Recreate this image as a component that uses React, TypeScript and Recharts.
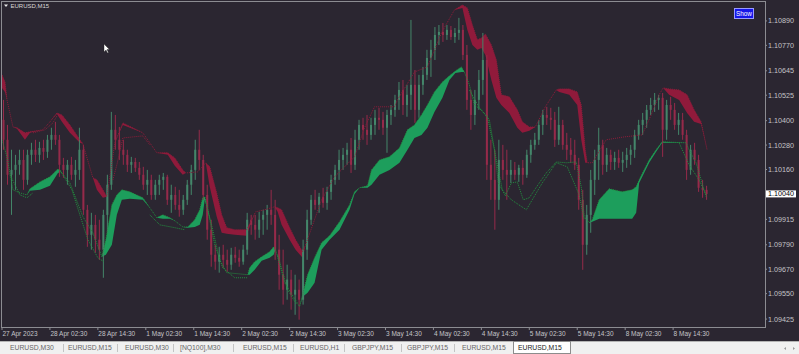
import React from 'react';
import { ComposedChart, Bar, Area, Line, XAxis, YAxis } from 'recharts';

// ---------------- data ----------------
const timeLabels = ['27 Apr 2023', '28 Apr 02:30', '28 Apr 14:30', '1 May 02:30', '1 May 14:30', '2 May 02:30', '2 May 14:30', '3 May 02:30', '3 May 14:30', '4 May 02:30', '4 May 14:30', '5 May 02:30', '5 May 14:30', '8 May 02:30', '8 May 14:30'];
const priceTicks = [1.1089, 1.1077, 1.10645, 1.10525, 1.104, 1.1028, 1.1016, 1.1004, 1.09915, 1.0979, 1.0967, 1.0955, 1.09425];
const tabLabels = ['EURUSD,M30', 'EURUSD,M15', 'EURUSD,M30', '[NQ100],M30', 'EURUSD,M15', 'EURUSD,H1', 'GBPJPY,M15', 'GBPJPY,M15', 'EURUSD,M15', 'EURUSD,M15'];

// hourly candles [open, high, low, close]
const candles: number[][] = [
  [1.10404, 1.10502, 1.10257, 1.10306], [1.10306, 1.10379, 1.10085, 1.10134], [1.10134, 1.10257, 1.09937, 1.10158], [1.10158, 1.10232, 1.1006, 1.10183],
  [1.10183, 1.10257, 1.10134, 1.10207], [1.10207, 1.10257, 1.1006, 1.10109], [1.10109, 1.10257, 1.10085, 1.10232], [1.10232, 1.10291, 1.10183, 1.10257],
  [1.10257, 1.10306, 1.10197, 1.10232], [1.10232, 1.10296, 1.10193, 1.10266], [1.10266, 1.10306, 1.10207, 1.10247], [1.10247, 1.1033, 1.10217, 1.10306],
  [1.10306, 1.10365, 1.10257, 1.1033], [1.1033, 1.10394, 1.10281, 1.10306], [1.10306, 1.1033, 1.10124, 1.10183], [1.10183, 1.10217, 1.10119, 1.10158],
  [1.10158, 1.10207, 1.10085, 1.10183], [1.10183, 1.10222, 1.10109, 1.10134], [1.10134, 1.10207, 1.10075, 1.10158], [1.10158, 1.10365, 1.10109, 1.10257],
  [1.10257, 1.10281, 1.09937, 1.09962], [1.09962, 1.09986, 1.0978, 1.09839], [1.09839, 1.09947, 1.09766, 1.09888], [1.09888, 1.09937, 1.09751, 1.09815],
  [1.09815, 1.09913, 1.09716, 1.09766], [1.09766, 1.09962, 1.09628, 1.09937], [1.09937, 1.10134, 1.09849, 1.10085], [1.10085, 1.10443, 1.1006, 1.10355],
  [1.10355, 1.10428, 1.10257, 1.10306], [1.10306, 1.10369, 1.10207, 1.10257], [1.10257, 1.10306, 1.10183, 1.10232], [1.10232, 1.10257, 1.10148, 1.10183],
  [1.10183, 1.10222, 1.10143, 1.10197], [1.10197, 1.10217, 1.10148, 1.10168], [1.10168, 1.10197, 1.10109, 1.10134], [1.10134, 1.10173, 1.1006, 1.10085],
  [1.10085, 1.10158, 1.10035, 1.10109], [1.10109, 1.10134, 1.10011, 1.10035], [1.10035, 1.10109, 1.10011, 1.10085], [1.10085, 1.10134, 1.10035, 1.10109],
  [1.10109, 1.10143, 1.1006, 1.10124], [1.10124, 1.10134, 1.09986, 1.10011], [1.10011, 1.10085, 1.09947, 1.10035], [1.10035, 1.10075, 1.09962, 1.09986],
  [1.09986, 1.1006, 1.09928, 1.09962], [1.09962, 1.10035, 1.09937, 1.10011], [1.10011, 1.10109, 1.09986, 1.10085], [1.10085, 1.10183, 1.10035, 1.10158],
  [1.10158, 1.10306, 1.10109, 1.10257], [1.10257, 1.10355, 1.10158, 1.10207], [1.10207, 1.10232, 1.10011, 1.10035], [1.10035, 1.10085, 1.09815, 1.09864],
  [1.09864, 1.09913, 1.09682, 1.09741], [1.09741, 1.0979, 1.09667, 1.09707], [1.09707, 1.0978, 1.09653, 1.09741], [1.09741, 1.0979, 1.09677, 1.09716],
  [1.09716, 1.09766, 1.09657, 1.09692], [1.09692, 1.09775, 1.09667, 1.09741], [1.09741, 1.0978, 1.09702, 1.09726], [1.09726, 1.09766, 1.09682, 1.09707],
  [1.09707, 1.0979, 1.09692, 1.09766], [1.09766, 1.09947, 1.09741, 1.09913], [1.09913, 1.09937, 1.09839, 1.09888], [1.09888, 1.09937, 1.09815, 1.09864],
  [1.09864, 1.09952, 1.09824, 1.09913], [1.09913, 1.09962, 1.09839, 1.09937], [1.09937, 1.09986, 1.09864, 1.09962], [1.09962, 1.1006, 1.09888, 1.09937],
  [1.09937, 1.10011, 1.09716, 1.09766], [1.09766, 1.09839, 1.09569, 1.09643], [1.09643, 1.09766, 1.09496, 1.09569], [1.09569, 1.09692, 1.0952, 1.09619],
  [1.09619, 1.09667, 1.09471, 1.09545], [1.09545, 1.09643, 1.09446, 1.09569], [1.09569, 1.09619, 1.09422, 1.0952], [1.0952, 1.09815, 1.09496, 1.09766],
  [1.09766, 1.09962, 1.09716, 1.09913], [1.09913, 1.10035, 1.09888, 1.10011], [1.10011, 1.1006, 1.09962, 1.09986], [1.09986, 1.10045, 1.09947, 1.10026],
  [1.10026, 1.1007, 1.09972, 1.09996], [1.09996, 1.10075, 1.09962, 1.1005], [1.1005, 1.10134, 1.10011, 1.10109], [1.10109, 1.10183, 1.10085, 1.10158],
  [1.10158, 1.10257, 1.10109, 1.10207], [1.10207, 1.10266, 1.10158, 1.10232], [1.10232, 1.10291, 1.10183, 1.10257], [1.10257, 1.10315, 1.10143, 1.10183],
  [1.10183, 1.10355, 1.10158, 1.10306], [1.10306, 1.10404, 1.10257, 1.10379], [1.10379, 1.10414, 1.10306, 1.10355], [1.10355, 1.10428, 1.10281, 1.1033],
  [1.1033, 1.10414, 1.10306, 1.10379], [1.10379, 1.10453, 1.1033, 1.10414], [1.10414, 1.10463, 1.10355, 1.10404], [1.10404, 1.10443, 1.1033, 1.10365],
  [1.10365, 1.10453, 1.10242, 1.10428], [1.10428, 1.10477, 1.10379, 1.10453], [1.10453, 1.10527, 1.10419, 1.10502], [1.10502, 1.1059, 1.10453, 1.10551],
  [1.10551, 1.106, 1.10428, 1.10477], [1.10477, 1.10576, 1.10419, 1.10527], [1.10527, 1.10895, 1.10453, 1.10576], [1.10576, 1.10649, 1.10389, 1.10453],
  [1.10453, 1.10625, 1.10414, 1.10576], [1.10576, 1.10664, 1.10527, 1.10625], [1.10625, 1.10748, 1.106, 1.10708], [1.10708, 1.10797, 1.10615, 1.10748],
  [1.10748, 1.1086, 1.10698, 1.10821], [1.10821, 1.1087, 1.10772, 1.10836], [1.10836, 1.1088, 1.10787, 1.10821], [1.10821, 1.1087, 1.10797, 1.10846],
  [1.10846, 1.10865, 1.10797, 1.10811], [1.10811, 1.10855, 1.10782, 1.10831], [1.10831, 1.10905, 1.10797, 1.10846], [1.10846, 1.1087, 1.10698, 1.10723],
  [1.10723, 1.10772, 1.10453, 1.10502], [1.10502, 1.10551, 1.10355, 1.10428], [1.10428, 1.10551, 1.10379, 1.10502], [1.10502, 1.10649, 1.10453, 1.106],
  [1.106, 1.10831, 1.10527, 1.10698], [1.10698, 1.10723, 1.10109, 1.10183], [1.10183, 1.10306, 1.10011, 1.10109], [1.10109, 1.10257, 1.09864, 1.10011],
  [1.10011, 1.10306, 1.09962, 1.10207], [1.10207, 1.10281, 1.10109, 1.10158], [1.10158, 1.10257, 1.10011, 1.10134], [1.10134, 1.10207, 1.10094, 1.10158],
  [1.10158, 1.10197, 1.10109, 1.10134], [1.10134, 1.10183, 1.10099, 1.10168], [1.10168, 1.10207, 1.10085, 1.10134], [1.10134, 1.10257, 1.10119, 1.10232],
  [1.10232, 1.10306, 1.10193, 1.10281], [1.10281, 1.1034, 1.10257, 1.10306], [1.10306, 1.10404, 1.10281, 1.10379], [1.10379, 1.10453, 1.1033, 1.10428],
  [1.10428, 1.10468, 1.10379, 1.10414], [1.10414, 1.10463, 1.10355, 1.10404], [1.10404, 1.10443, 1.10271, 1.10306], [1.10306, 1.10468, 1.10281, 1.10379],
  [1.10379, 1.10404, 1.10257, 1.10281], [1.10281, 1.1034, 1.10207, 1.10257], [1.10257, 1.10315, 1.10193, 1.10232], [1.10232, 1.10306, 1.10158, 1.10183],
  [1.10183, 1.10217, 1.09962, 1.10011], [1.10011, 1.1006, 1.09667, 1.0979], [1.0979, 1.09986, 1.09741, 1.09937], [1.09937, 1.10158, 1.09849, 1.10109],
  [1.10109, 1.10257, 1.10035, 1.10207], [1.10207, 1.10365, 1.10109, 1.10281], [1.10281, 1.10306, 1.10134, 1.10183], [1.10183, 1.10266, 1.10148, 1.10232],
  [1.10232, 1.10257, 1.10158, 1.10197], [1.10197, 1.10247, 1.10158, 1.10217], [1.10217, 1.10257, 1.10168, 1.10193], [1.10193, 1.10247, 1.10148, 1.10207],
  [1.10207, 1.10266, 1.10168, 1.10232], [1.10232, 1.10281, 1.10183, 1.10257], [1.10257, 1.10355, 1.10217, 1.1033], [1.1033, 1.10404, 1.10306, 1.10379],
  [1.10379, 1.10438, 1.1033, 1.10404], [1.10404, 1.10477, 1.10365, 1.10453], [1.10453, 1.10512, 1.10428, 1.10477], [1.10477, 1.10536, 1.10443, 1.10502],
  [1.10502, 1.10527, 1.10453, 1.10512], [1.10512, 1.10536, 1.10222, 1.10355], [1.10355, 1.10502, 1.10306, 1.10477], [1.10477, 1.10517, 1.10404, 1.10453],
  [1.10453, 1.10487, 1.10355, 1.10379], [1.10379, 1.10438, 1.1033, 1.10404], [1.10404, 1.10438, 1.10306, 1.1033], [1.1033, 1.10355, 1.10109, 1.10158],
  [1.10158, 1.10281, 1.10134, 1.10257], [1.10257, 1.10291, 1.10183, 1.10207], [1.10207, 1.10232, 1.1005, 1.1007], [1.1007, 1.10109, 1.10021, 1.1006],
  [1.1006, 1.1008, 1.10011, 1.1004],
];

// upper (red) band: [bar position, upper edge, lower edge]
const redBand: number[][] = [
  [-0.5, 1.10625, 1.10561], [0.25, 1.1059, 1.10541], [0.75, 1.10502, 1.10502], [2.25, 1.10369, 1.10369], [3.25, 1.10365, 1.1036],
  [5.25, 1.1034, 1.10306], [6.5, 1.10345, 1.1034], [9.75, 1.10355, 1.10355], [11.5, 1.10394, 1.10394], [13.25, 1.10438, 1.10433],
  [14.5, 1.10428, 1.10394], [16.5, 1.10379, 1.1034], [19, 1.10306, 1.10291], [19.75, 1.10286, 1.10286], [22.25, 1.10119, 1.10119],
  [23.25, 1.10109, 1.1006], [24.75, 1.1006, 1.10021], [25.75, 1.10026, 1.10026], [27.75, 1.10291, 1.10291], [29.75, 1.10389, 1.10379],
  [34.75, 1.1034, 1.1034], [38.25, 1.10242, 1.10242], [41, 1.10242, 1.10232], [42.75, 1.10217, 1.10178], [44.75, 1.10158, 1.10134],
  [45.5, 1.10143, 1.10143], [48.5, 1.10148, 1.10148], [50.5, 1.10193, 1.10193], [51.5, 1.10173, 1.10075], [53.25, 1.10045, 1.09928],
  [54.5, 1.09937, 1.09849], [55.75, 1.09874, 1.09844], [57.75, 1.09864, 1.09839], [60.75, 1.09864, 1.09834], [61.75, 1.09903, 1.09893],
  [63, 1.09952, 1.09952], [65.25, 1.09962, 1.09962], [67.75, 1.09977, 1.09977], [68.5, 1.09972, 1.09952], [69.5, 1.09962, 1.09888],
  [71.5, 1.09874, 1.09815], [73, 1.09815, 1.09766], [74.75, 1.09756, 1.09726], [75.5, 1.0979, 1.0979], [79.5, 1.10011, 1.10011],
  [82.75, 1.10124, 1.10124], [87.75, 1.10222, 1.10222], [90.25, 1.10365, 1.10365], [92.75, 1.10468, 1.10468], [97.75, 1.10468, 1.10468],
  [98.5, 1.10502, 1.10502], [102.75, 1.10639, 1.10639], [106, 1.10664, 1.10664], [109.5, 1.10831, 1.10831], [112.75, 1.10944, 1.10944],
  [114.75, 1.10968, 1.10954], [116, 1.10954, 1.10846], [117.25, 1.1087, 1.10772], [118.5, 1.10797, 1.10748], [119.5, 1.10806, 1.10757],
  [120.5, 1.10826, 1.10723], [122, 1.10772, 1.106], [123.25, 1.10698, 1.10512], [124.5, 1.10527, 1.10477], [126.5, 1.10517, 1.10438],
  [128.5, 1.10453, 1.10365], [129.75, 1.10394, 1.1034], [131.5, 1.10369, 1.1035], [133, 1.10369, 1.10369], [135.5, 1.10468, 1.10468],
  [138.25, 1.10551, 1.10551], [139, 1.10556, 1.10541], [141.5, 1.10556, 1.10527], [143.5, 1.10541, 1.10477], [144.5, 1.10477, 1.10306],
  [145.5, 1.10257, 1.10193], [146, 1.10193, 1.10193], [147.25, 1.10193, 1.10193], [150.75, 1.10306, 1.10306], [155.25, 1.1032, 1.1032],
  [159.75, 1.1033, 1.1033], [162, 1.10428, 1.10428], [164, 1.10527, 1.10527], [165, 1.10561, 1.10561], [166.5, 1.10556, 1.10527],
  [169, 1.10551, 1.10502], [171, 1.10527, 1.10438], [172.75, 1.10453, 1.10394], [174.5, 1.10394, 1.10384], [176, 1.10257, 1.10257],
];

// lower (green) band: [bar position, upper edge, lower edge]
const greenBand: number[][] = [
  [-0.5, 1.10306, 1.10306], [0.75, 1.10222, 1.10222], [2.25, 1.1006, 1.1006], [4, 1.10045, 1.10045], [5.75, 1.10035, 1.10035],
  [6.5, 1.10065, 1.10055], [9, 1.10099, 1.1006], [11.5, 1.10124, 1.1008], [13.5, 1.10163, 1.10143], [14.25, 1.10148, 1.10148],
  [16.5, 1.10094, 1.10094], [19.75, 1.09928, 1.09928], [22.25, 1.09849, 1.09849], [24.5, 1.09731, 1.09731], [25.5, 1.09815, 1.09741],
  [27, 1.09986, 1.0979], [28.25, 1.10035, 1.09937], [29.5, 1.1006, 1.10011], [31.5, 1.1005, 1.10016], [34.75, 1.10021, 1.10011],
  [36.5, 1.09972, 1.09972], [38.25, 1.09923, 1.09923], [39.75, 1.09937, 1.09918], [41.5, 1.09923, 1.09918], [42.75, 1.09908, 1.09908],
  [44.75, 1.09878, 1.09878], [46, 1.09878, 1.09874], [47.75, 1.09913, 1.09878], [49, 1.09962, 1.09888], [49.75, 1.10021, 1.09937],
  [50.25, 1.10026, 1.10011], [52.25, 1.09864, 1.09864], [54, 1.09716, 1.09716], [55.75, 1.09653, 1.09653], [61, 1.09643, 1.09643],
  [61.5, 1.09677, 1.09643], [62.75, 1.09707, 1.09667], [64.5, 1.09731, 1.09712], [66.5, 1.09756, 1.09726], [67.5, 1.0978, 1.09741],
  [68, 1.09766, 1.09766], [70.25, 1.09604, 1.09604], [74, 1.09486, 1.09486], [74.75, 1.09545, 1.09535], [76, 1.09643, 1.09554],
  [77.75, 1.09726, 1.09604], [79.5, 1.098, 1.09766], [81.5, 1.09834, 1.09815], [84, 1.09903, 1.09864], [86.5, 1.09986, 1.09962],
  [87.75, 1.1005, 1.1004], [89, 1.1007, 1.1007], [91, 1.1008, 1.1007], [92, 1.10158, 1.10085], [94, 1.10207, 1.10134],
  [96.5, 1.10222, 1.10158], [99, 1.10266, 1.10193], [101, 1.10355, 1.10257], [102.75, 1.10379, 1.10315], [104.5, 1.10428, 1.1033],
  [106, 1.10477, 1.10365], [107.75, 1.10541, 1.10443], [109.75, 1.1059, 1.10512], [111.5, 1.1062, 1.106], [113, 1.10644, 1.10634],
  [114.5, 1.10664, 1.10639], [115.25, 1.10639, 1.10639], [116.5, 1.10576, 1.10576], [117.75, 1.10477, 1.10477], [119.5, 1.10453, 1.10453],
  [121, 1.10419, 1.10419], [122.75, 1.10257, 1.10257], [123.75, 1.10094, 1.10094], [125.5, 1.10031, 1.10031], [127, 1.10094, 1.10094],
  [128.5, 1.10099, 1.10099], [130, 1.10011, 1.10011], [131.5, 1.10021, 1.10021], [134, 1.10094, 1.10094], [135.75, 1.10143, 1.10143],
  [138.25, 1.10197, 1.10197], [140.75, 1.10193, 1.10193], [143.25, 1.10197, 1.10197], [144.5, 1.10075, 1.10075], [145.25, 1.09928, 1.09928],
  [146.5, 1.09898, 1.09898], [147.25, 1.09913, 1.09903], [149, 1.10011, 1.09918], [151.5, 1.10065, 1.09918], [154.75, 1.1005, 1.09918],
  [157.25, 1.1006, 1.09918], [158.25, 1.10075, 1.09947], [159, 1.10109, 1.10094], [161.5, 1.10207, 1.10193], [163.25, 1.10257, 1.10247],
  [164.75, 1.10296, 1.10291], [170.75, 1.10291, 1.10291], [171.5, 1.10257, 1.10257], [173.25, 1.10193, 1.10193], [175.75, 1.10026, 1.10026],
];

// secondary dotted lines: segments of [bar position, price]
const redDotSegments: number[][][] = [
  [[7.25, 1.1034], [10.25, 1.10355], [12.25, 1.10389], [13.25, 1.10423]],
  [[27.25, 1.10109], [28.25, 1.10183], [29.75, 1.10315], [34.75, 1.10325], [36.5, 1.10281]],
];
const greenDotSegments: number[][][] = [
  [[1.5, 1.10134], [4, 1.10035], [5.75, 1.10021], [7.25, 1.10045]],
  [[14, 1.10158], [17, 1.1006], [19, 1.09937], [21, 1.09815], [23.5, 1.09726], [25, 1.09707]],
  [[36.5, 1.09937], [39, 1.09888], [42.75, 1.09874], [45.25, 1.09864]],
  [[50.75, 1.09986], [52.75, 1.0979], [54.75, 1.09677], [57.75, 1.09628], [61, 1.09628]],
  [[68.5, 1.09741], [71, 1.09569], [73.25, 1.09496]],
  [[116.5, 1.10551], [119, 1.10463], [121.5, 1.10404], [123.25, 1.10207], [124.75, 1.1006], [127, 1.10011], [130.75, 1.09962], [134.75, 1.10094], [138.25, 1.10193], [141, 1.10173], [144, 1.10035], [145.25, 1.09913]],
  [[169, 1.10291], [171.5, 1.10183], [174, 1.10109], [175.75, 1.10035]],
];

// ---------------- layout / style ----------------
const BG = '#2b2631';
const FRAME = '#8c8c92';
const AXIS_TEXT = '#c4c4c8';
const BULL = '#44866a';
const BEAR = '#962a4a';
const RED_FILL = '#901a3b';
const RED_DOT = '#8e1c3a';
const GREEN_FILL = '#1d9e5c';
const GREEN_DOT = '#22903f';
const FONT = '"Liberation Sans", Arial, sans-serif';
const SLOTS = 191;
const tabLefts = [10, 68, 125, 180, 243, 300, 352, 407, 462, 518];
const tabSeparators = [63, 117, 173, 233, 293, 344, 401, 454];

const lastClose = candles[candles.length - 1][3];

const chartData = Array.from({ length: SLOTS }, (_, i) => {
  const k = candles[i];
  return k ? { i, o: k[0], h: k[1], l: k[2], c: k[3] } : { i, o: null, h: null, l: null, c: null };
});
const redData = redBand.map(([x, hi, lo]) => ({ x, hi, r: [lo, hi] }));
const greenData = greenBand.map(([x, hi, lo]) => ({ x, hi, r: [lo, hi] }));

const Candle = (props: any) => {
  const { x, y, width, height, payload } = props;
  if (!payload || payload.h == null || !isFinite(y) || !isFinite(height)) return <g />;
  const top = Math.min(y, y + height);
  const bot = Math.max(y, y + height);
  const span = payload.h - payload.l || 1e-9;
  const py = (p: number) => top + ((payload.h - p) / span) * (bot - top);
  const up = payload.c >= payload.o;
  const color = up ? BULL : BEAR;
  const cx = x + width / 2;
  const yo = py(payload.o);
  const yc = py(payload.c);
  const bt = Math.min(yo, yc);
  const bh = Math.max(1, Math.abs(yo - yc));
  return (
    <g>
      <line x1={cx} x2={cx} y1={top} y2={bot} stroke={color} strokeWidth={1} />
      <rect x={cx - 1} y={bt} width={2} height={bh} fill={color} />
    </g>
  );
};

const PriceTick = (props: any) => {
  const { x, y, payload } = props;
  const v = payload.value as number;
  const cur = Math.abs(v - lastClose) < 1e-7;
  return (
    <g>
      <line x1={x} x2={x + 2} y1={y} y2={y} stroke={FRAME} />
      {cur && <rect x={x} y={y - 3.5} width={31} height={7} fill="#ffffff" />}
      <text x={x + 3} y={y + 2.5} fontSize={7.2} fontFamily={FONT} fill={cur ? '#000000' : AXIS_TEXT}>
        {v.toFixed(5)}
      </text>
    </g>
  );
};

const TimeTick = (props: any) => {
  const { x, y, payload } = props;
  const i = Number(payload.value);
  const label = i % 12 === 0 ? timeLabels[i / 12] : undefined;
  if (!label) return <g />;
  return (
    <g>
      <line x1={x - 2} x2={x - 2} y1={y} y2={y + 3} stroke={FRAME} />
      <text x={x - 1.5} y={y + 9} fontSize={6.5} fontFamily={FONT} fill={AXIS_TEXT}>
        {label}
      </text>
    </g>
  );
};

export default function App() {
  return (
    <div style={{ position: 'absolute', left: 0, top: 0, width: 799, height: 354, background: BG, overflow: 'hidden', fontFamily: FONT }}>
      <ComposedChart width={799} height={341} data={chartData} margin={{ top: 2, right: 0, bottom: 0, left: 2 }}>
        <XAxis xAxisId="c" dataKey="i" type="category" interval={11} tickLine={false} axisLine={false} tickSize={0} tickMargin={0} height={14} tick={<TimeTick />} />
        <XAxis xAxisId="n" dataKey="x" type="number" domain={[-0.5, SLOTS - 0.5]} allowDataOverflow hide />
        <YAxis orientation="right" width={34} domain={[1.09386, 1.10983]} allowDataOverflow ticks={priceTicks} interval={0} tickLine={false} axisLine={false} tickSize={0} tickMargin={0} tick={<PriceTick />} />

        <Line xAxisId="n" data={redData} dataKey="hi" type="linear" stroke={RED_DOT} strokeWidth={1} strokeDasharray="1 1" dot={false} activeDot={false} isAnimationActive={false} />
        <Line xAxisId="n" data={greenData} dataKey="hi" type="linear" stroke={GREEN_DOT} strokeWidth={1} strokeDasharray="1 1" dot={false} activeDot={false} isAnimationActive={false} />
        {redDotSegments.map((seg, k) => (
          <Line key={'r' + k} xAxisId="n" data={seg.map(([x, p]) => ({ x, p }))} dataKey="p" type="linear" stroke={RED_DOT} strokeWidth={1} strokeDasharray="1 1" dot={false} activeDot={false} isAnimationActive={false} />
        ))}
        {greenDotSegments.map((seg, k) => (
          <Line key={'g' + k} xAxisId="n" data={seg.map(([x, p]) => ({ x, p }))} dataKey="p" type="linear" stroke={GREEN_DOT} strokeWidth={1} strokeDasharray="1 1" dot={false} activeDot={false} isAnimationActive={false} />
        ))}
        <Area xAxisId="n" data={redData} dataKey="r" type="linear" stroke="none" fill={RED_FILL} fillOpacity={1} dot={false} activeDot={false} isAnimationActive={false} />
        <Area xAxisId="n" data={greenData} dataKey="r" type="linear" stroke="none" fill={GREEN_FILL} fillOpacity={1} dot={false} activeDot={false} isAnimationActive={false} />

        <Bar xAxisId="c" dataKey={(d: any) => (d.h == null ? null : [d.l, d.h])} barSize={3} shape={<Candle />} isAnimationActive={false} />
      </ComposedChart>

      {/* plot frame */}
      <div style={{ position: 'absolute', left: 1, top: 1, width: 765, height: 327, boxSizing: 'border-box', border: `1px solid ${FRAME}`, pointerEvents: 'none' }} />

      {/* title */}
      <svg style={{ position: 'absolute', left: 0, top: 0 }} width={120} height={60}>
        <polygon points="4,4.5 8,4.5 6,7" fill="#e8e8e8" />
        <text x={10.5} y={7.8} fontSize={6} fontFamily={FONT} fill="#d8d8d8">EURUSD,M15</text>
        <polygon points="104,44 104,52 106,50 107.5,53 108.5,52.5 107,49.5 109.5,49.5" fill="#ffffff" stroke="#222" strokeWidth={0.4} />
      </svg>

      {/* Show button */}
      <div style={{ position: 'absolute', left: 734, top: 8, width: 20, height: 11, boxSizing: 'border-box', background: '#1616e8', border: '1px solid #9a9aff', color: '#ffffff', fontSize: 6.3, lineHeight: '9px', textAlign: 'center' }}>
        Show
      </div>

      {/* tab bar */}
      <div style={{ position: 'absolute', left: 0, top: 341, width: 799, height: 13, background: '#f0f0f0', borderTop: '1px solid #b4b4b4', boxSizing: 'border-box' }}>
        {tabSeparators.map((sx, k) => (
          <div key={'s' + k} style={{ position: 'absolute', left: sx, top: 2, width: 1, height: 8, background: '#c4c4c4' }} />
        ))}
        <div style={{ position: 'absolute', left: 513, top: -1, width: 58, height: 13, background: '#ffffff', border: '1px solid #8c8c8c', boxSizing: 'border-box' }} />
        {tabLabels.map((t, k) => (
          <div key={'t' + k} style={{ position: 'absolute', left: tabLefts[k], top: 1, fontSize: 6.8, lineHeight: '10px', color: k === tabLabels.length - 1 ? '#222' : '#666', whiteSpace: 'nowrap' }}>
            {t}
          </div>
        ))}
        <svg style={{ position: 'absolute', left: 778, top: 2 }} width={20} height={9}>
          <polygon points="6,4.5 8,3 8,6" fill="#9a9a9a" />
          <polygon points="15,3 17,4.5 15,6" fill="#9a9a9a" />
        </svg>
      </div>
    </div>
  );
}
